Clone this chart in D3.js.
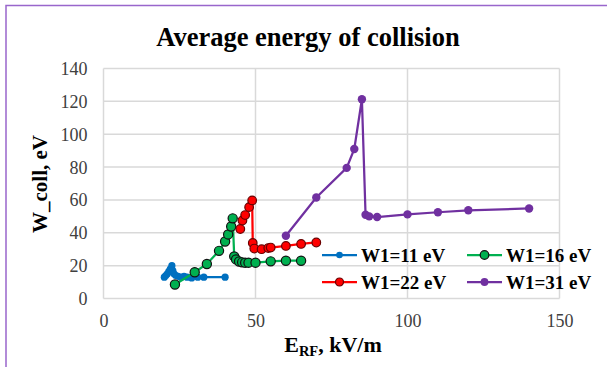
<!DOCTYPE html>
<html>
<head>
<meta charset="utf-8">
<script src="https://cdn.jsdelivr.net/npm/d3@7"></script>
<style>
  body { margin: 0; background: #fff; }
</style>
</head>
<body>
<div id="chart"></div>
<script>
// data
var w11x = [20, 20.5, 21, 21.5, 22, 22.5, 22.8, 23.2, 23.8, 24.5, 25.5, 26.5, 27.5, 29, 31, 33, 40];
var w11y = [13, 14, 15, 16.5, 18, 20, 17, 15, 14, 13.5, 13, 13.5, 13, 12.5, 13, 13, 13];
var w16x = [23.5, 30, 34, 38, 40, 41, 42, 42.5, 43, 43.6, 44.6, 45.6, 46.6, 47.7, 50, 55, 60, 65];
var w16y = [8.5, 16, 21, 29, 34.7, 39, 43.8, 48.8, 25.6, 23.8, 22.5, 22, 21.8, 21.8, 21.8, 22.6, 23, 23];
var w22x = [45, 45.7, 46.6, 47.9, 48.9, 49.1, 49.6, 52, 54.2, 55, 60, 65, 70];
var w22y = [42.3, 47.5, 50.8, 55.6, 59.7, 33.8, 30.4, 30, 30.7, 31, 32, 33.2, 34.1];
var w31x = [60, 70, 80, 82.5, 85, 86.2, 87.4, 90, 100, 110, 120, 140];
var w31y = [38.2, 61.5, 79.5, 91, 121.3, 51, 50, 49.6, 51.2, 52.5, 53.7, 54.8];

var seriesNames = ["W1=11 eV", "W1=16 eV", "W1=22 eV", "W1=31 eV"];
var xTicks = [0, 50, 100, 150];
var yTicks = [0, 20, 40, 60, 80, 100, 120, 140];

var series = [
  {name: seriesNames[0], xs: w11x, ys: w11y, color: "#0070C0", r: 3.6, stroke: "none"},
  {name: seriesNames[1], xs: w16x, ys: w16y, color: "#00B050", r: 4.6, stroke: "#111"},
  {name: seriesNames[2], xs: w22x, ys: w22y, color: "#FF0000", r: 4.3, stroke: "#6b0000"},
  {name: seriesNames[3], xs: w31x, ys: w31y, color: "#7030A0", r: 4.2, stroke: "none"}
];

var FONT = "Liberation Serif";
var width = 607, height = 367;

var svg = d3.select("#chart")
  .append("svg")
  .attr("width", width)
  .attr("height", height);

// outer frame
svg.append("rect")
  .attr("x", 6).attr("y", 5.5)
  .attr("width", 700).attr("height", 500)
  .attr("fill", "none")
  .attr("stroke", "#9966cc")
  .attr("stroke-width", 1.5);

var x = d3.scaleLinear().domain([0, 150]).range([103.5, 559.5]);
var y = d3.scaleLinear().domain([0, 140]).range([298.5, 68.5]);

// grid
svg.append("g").selectAll("line.h")
  .data(yTicks).enter().append("line")
  .attr("x1", x(0)).attr("x2", x(150))
  .attr("y1", function(d) { return y(d); })
  .attr("y2", function(d) { return y(d); })
  .attr("stroke", "#d9d9d9").attr("stroke-width", 1.5);
svg.append("g").selectAll("line.v")
  .data(xTicks).enter().append("line")
  .attr("y1", y(0)).attr("y2", y(140))
  .attr("x1", function(d) { return x(d); })
  .attr("x2", function(d) { return x(d); })
  .attr("stroke", "#d9d9d9").attr("stroke-width", 1.5);

// axes (labels only)
var yAxis = svg.append("g")
  .attr("transform", "translate(" + (x(0) - 16) + ",0)")
  .call(d3.axisLeft(y).tickValues(yTicks).tickSize(0).tickPadding(0));
yAxis.select(".domain").remove();
yAxis.selectAll("text")
  .attr("font-family", FONT)
  .attr("font-size", 18)
  .attr("fill", "#404040")
  .attr("dy", "0.33em");

var xAxis = svg.append("g")
  .attr("transform", "translate(0," + (y(0) + 14) + ")")
  .call(d3.axisBottom(x).tickValues(xTicks).tickSize(0).tickPadding(0));
xAxis.select(".domain").remove();
xAxis.selectAll("text")
  .attr("font-family", FONT)
  .attr("font-size", 18)
  .attr("fill", "#404040")
  .attr("dy", "0.8em");

// title
svg.append("text")
  .attr("x", 308).attr("y", 46)
  .attr("text-anchor", "middle")
  .attr("font-family", FONT)
  .attr("font-size", 26.5).attr("font-weight", "bold")
  .text("Average energy of collision");

// y label
svg.append("text")
  .attr("transform", "translate(47,184) rotate(-90)")
  .attr("text-anchor", "middle")
  .attr("font-family", FONT)
  .attr("font-size", 21).attr("font-weight", "bold")
  .text("W_coll, eV");

// x label
var xl = svg.append("text")
  .attr("x", 333).attr("y", 352)
  .attr("text-anchor", "middle")
  .attr("font-family", FONT)
  .attr("font-size", 22).attr("font-weight", "bold");
xl.append("tspan").text("E");
xl.append("tspan").attr("dy", 4).attr("font-size", 14.5).text("RF");
xl.append("tspan").attr("dy", -4).text(", kV/m");

// lines and markers
var line = d3.line()
  .x(function(d) { return x(d[0]); })
  .y(function(d) { return y(d[1]); });

series.forEach(function(s) {
  var pts = s.xs.map(function(v, i) { return [v, s.ys[i]]; });
  svg.append("path")
    .datum(pts)
    .attr("d", line)
    .attr("fill", "none")
    .attr("stroke", s.color)
    .attr("stroke-width", 2.25);
  svg.append("g").selectAll("circle")
    .data(pts).enter().append("circle")
    .attr("cx", function(d) { return x(d[0]); })
    .attr("cy", function(d) { return y(d[1]); })
    .attr("r", s.r)
    .attr("fill", s.color)
    .attr("stroke", s.stroke)
    .attr("stroke-width", s.stroke === "none" ? 0 : 1.2);
});

// legend
var legPos = [[322, 255], [467, 255], [322, 282], [467, 282]];
series.forEach(function(s, i) {
  var g = svg.append("g").attr("transform", "translate(" + legPos[i][0] + "," + legPos[i][1] + ")");
  g.append("line").attr("x1", 0).attr("x2", 35).attr("y1", 0).attr("y2", 0)
    .attr("stroke", s.color).attr("stroke-width", 2.25);
  g.append("circle").attr("cx", 17.5).attr("cy", 0).attr("r", s.r - 0.3)
    .attr("fill", s.color).attr("stroke", s.stroke)
    .attr("stroke-width", s.stroke === "none" ? 0 : 1.2);
  g.append("text").attr("x", 39).attr("y", 6.5)
    .attr("font-family", FONT)
    .attr("font-size", 19).attr("font-weight", "bold")
    .text(s.name);
});
</script>
</body>
</html>
